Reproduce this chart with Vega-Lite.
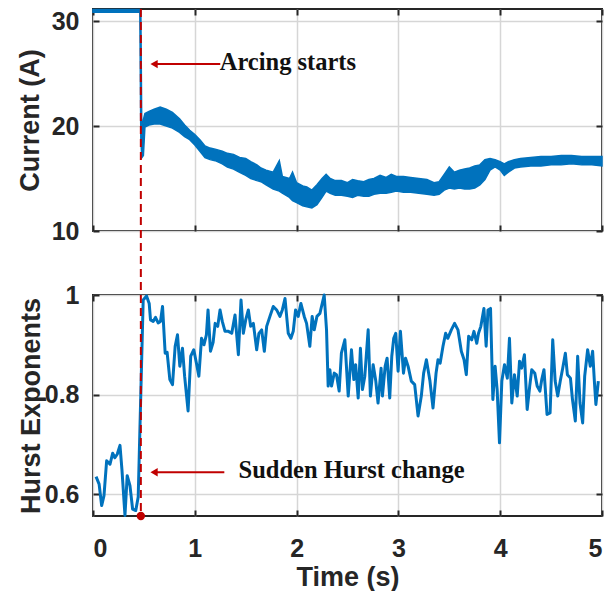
{
  "$schema": "https://vega.github.io/schema/vega-lite/v6.json",
  "padding": {"left": 14, "top": 5, "right": 0, "bottom": 0},
  "bounds": "flush",
  "spacing": 64,
  "background": "white",
  "config": {
    "view": {"stroke": "#262626", "strokeWidth": 2},
    "axis": {
      "domain": false, "tickColor": "#262626", "tickWidth": 2, "tickSize": -6,
      "labelFont": "Liberation Sans", "labelFontWeight": "bold", "labelFontSize": 25, "labelColor": "#262626", "labelPadding": 20,
      "titleFont": "Liberation Sans", "titleFontWeight": "bold", "titleFontSize": 27, "titleColor": "#262626",
      "gridColor": "#d6d6d6", "gridWidth": 1.5
    }
  },
  "datasets": {
    "cur": [
      {"t": 0.0, "lo": 30.85, "hi": 31.1}, {"t": 0.1, "lo": 30.85, "hi": 31.1}, {"t": 0.2, "lo": 30.85, "hi": 31.1},
      {"t": 0.3, "lo": 30.85, "hi": 31.1}, {"t": 0.4, "lo": 30.85, "hi": 31.1}, {"t": 0.46, "lo": 30.85, "hi": 31.1},
      {"t": 0.47, "lo": 18.6, "hi": 31.0}, {"t": 0.48, "lo": 17.0, "hi": 18.8}, {"t": 0.495, "lo": 17.2, "hi": 20.6},
      {"t": 0.51, "lo": 19.9, "hi": 21.2}, {"t": 0.55, "lo": 20.1, "hi": 21.4}, {"t": 0.6, "lo": 20.2, "hi": 21.6},
      {"t": 0.66, "lo": 20.2, "hi": 21.8}, {"t": 0.72, "lo": 20.0, "hi": 21.6}, {"t": 0.78, "lo": 19.8, "hi": 21.3},
      {"t": 0.85, "lo": 19.4, "hi": 20.7}, {"t": 0.9, "lo": 19.0, "hi": 20.1}, {"t": 0.95, "lo": 18.7, "hi": 19.6},
      {"t": 1.0, "lo": 18.2, "hi": 19.2}, {"t": 1.05, "lo": 17.6, "hi": 18.7}, {"t": 1.1, "lo": 17.0, "hi": 18.1},
      {"t": 1.15, "lo": 16.8, "hi": 17.9}, {"t": 1.2, "lo": 16.7, "hi": 17.8}, {"t": 1.27, "lo": 16.4, "hi": 17.6},
      {"t": 1.32, "lo": 16.1, "hi": 17.4}, {"t": 1.38, "lo": 15.9, "hi": 17.3}, {"t": 1.44, "lo": 15.6, "hi": 17.0},
      {"t": 1.5, "lo": 15.3, "hi": 16.9}, {"t": 1.55, "lo": 15.0, "hi": 16.6}, {"t": 1.61, "lo": 14.8, "hi": 16.3},
      {"t": 1.65, "lo": 14.7, "hi": 16.0}, {"t": 1.7, "lo": 14.4, "hi": 15.8}, {"t": 1.77, "lo": 14.0, "hi": 15.6},
      {"t": 1.83, "lo": 13.8, "hi": 16.7}, {"t": 1.86, "lo": 13.6, "hi": 15.2}, {"t": 1.93, "lo": 13.2, "hi": 15.0},
      {"t": 1.96, "lo": 12.9, "hi": 15.6}, {"t": 2.0, "lo": 12.7, "hi": 14.6}, {"t": 2.06, "lo": 12.4, "hi": 14.3},
      {"t": 2.1, "lo": 12.3, "hi": 14.2}, {"t": 2.15, "lo": 12.2, "hi": 13.9}, {"t": 2.2, "lo": 12.5, "hi": 14.4},
      {"t": 2.25, "lo": 13.2, "hi": 15.0}, {"t": 2.29, "lo": 13.8, "hi": 15.4}, {"t": 2.33, "lo": 13.6, "hi": 15.0},
      {"t": 2.38, "lo": 13.4, "hi": 14.8}, {"t": 2.44, "lo": 13.4, "hi": 14.8}, {"t": 2.5, "lo": 13.3, "hi": 14.6},
      {"t": 2.55, "lo": 13.2, "hi": 14.9}, {"t": 2.6, "lo": 13.4, "hi": 14.8}, {"t": 2.66, "lo": 13.3, "hi": 14.7},
      {"t": 2.71, "lo": 13.3, "hi": 14.9}, {"t": 2.76, "lo": 13.5, "hi": 15.0}, {"t": 2.82, "lo": 13.6, "hi": 15.3},
      {"t": 2.88, "lo": 13.6, "hi": 15.1}, {"t": 2.93, "lo": 13.7, "hi": 15.4}, {"t": 2.98, "lo": 13.8, "hi": 15.2},
      {"t": 3.05, "lo": 13.7, "hi": 15.2}, {"t": 3.12, "lo": 13.7, "hi": 15.1}, {"t": 3.2, "lo": 13.6, "hi": 15.0},
      {"t": 3.28, "lo": 13.5, "hi": 14.9}, {"t": 3.35, "lo": 13.4, "hi": 14.6}, {"t": 3.4, "lo": 13.5, "hi": 14.7},
      {"t": 3.45, "lo": 13.9, "hi": 15.4}, {"t": 3.5, "lo": 14.1, "hi": 16.1}, {"t": 3.55, "lo": 14.0, "hi": 15.6},
      {"t": 3.6, "lo": 14.1, "hi": 15.8}, {"t": 3.65, "lo": 14.0, "hi": 15.9}, {"t": 3.7, "lo": 14.0, "hi": 16.0},
      {"t": 3.75, "lo": 14.1, "hi": 16.2}, {"t": 3.8, "lo": 14.4, "hi": 16.3}, {"t": 3.85, "lo": 14.9, "hi": 16.8},
      {"t": 3.9, "lo": 15.8, "hi": 16.9}, {"t": 3.95, "lo": 16.1, "hi": 16.8}, {"t": 4.0, "lo": 15.8, "hi": 16.6},
      {"t": 4.04, "lo": 15.3, "hi": 16.4}, {"t": 4.08, "lo": 15.6, "hi": 16.6}, {"t": 4.14, "lo": 16.0, "hi": 16.8},
      {"t": 4.2, "lo": 16.1, "hi": 16.9}, {"t": 4.3, "lo": 16.2, "hi": 17.0}, {"t": 4.4, "lo": 16.2, "hi": 17.1},
      {"t": 4.5, "lo": 16.3, "hi": 17.1}, {"t": 4.6, "lo": 16.3, "hi": 17.2}, {"t": 4.7, "lo": 16.4, "hi": 17.2},
      {"t": 4.8, "lo": 16.3, "hi": 17.1}, {"t": 4.9, "lo": 16.3, "hi": 17.1}, {"t": 5.0, "lo": 16.2, "hi": 17.1}
    ],
    "hurst": [
      {"t": 0.03, "h": 0.635}, {"t": 0.06, "h": 0.62}, {"t": 0.085, "h": 0.577}, {"t": 0.108, "h": 0.597},
      {"t": 0.134, "h": 0.667}, {"t": 0.167, "h": 0.66}, {"t": 0.193, "h": 0.682}, {"t": 0.215, "h": 0.673},
      {"t": 0.238, "h": 0.68}, {"t": 0.265, "h": 0.698}, {"t": 0.284, "h": 0.65}, {"t": 0.314, "h": 0.557},
      {"t": 0.336, "h": 0.637}, {"t": 0.363, "h": 0.617}, {"t": 0.389, "h": 0.57}, {"t": 0.42, "h": 0.567},
      {"t": 0.444, "h": 0.594}, {"t": 0.493, "h": 0.99}, {"t": 0.526, "h": 0.998}, {"t": 0.552, "h": 0.983},
      {"t": 0.565, "h": 0.95}, {"t": 0.591, "h": 0.947}, {"t": 0.614, "h": 0.955}, {"t": 0.64, "h": 0.944},
      {"t": 0.663, "h": 0.947}, {"t": 0.683, "h": 0.977}, {"t": 0.709, "h": 0.883}, {"t": 0.728, "h": 0.885},
      {"t": 0.755, "h": 0.83}, {"t": 0.781, "h": 0.82}, {"t": 0.807, "h": 0.897}, {"t": 0.83, "h": 0.92},
      {"t": 0.853, "h": 0.857}, {"t": 0.879, "h": 0.893}, {"t": 0.9, "h": 0.837}, {"t": 0.934, "h": 0.767},
      {"t": 0.96, "h": 0.877}, {"t": 0.99, "h": 0.89}, {"t": 1.016, "h": 0.863}, {"t": 1.04, "h": 0.837},
      {"t": 1.066, "h": 0.913}, {"t": 1.09, "h": 0.9}, {"t": 1.114, "h": 0.92}, {"t": 1.13, "h": 0.97},
      {"t": 1.154, "h": 0.887}, {"t": 1.18, "h": 0.905}, {"t": 1.2, "h": 0.943}, {"t": 1.225, "h": 0.937},
      {"t": 1.248, "h": 0.97}, {"t": 1.27, "h": 0.947}, {"t": 1.297, "h": 0.927}, {"t": 1.33, "h": 0.927},
      {"t": 1.363, "h": 0.923}, {"t": 1.395, "h": 0.96}, {"t": 1.428, "h": 0.88}, {"t": 1.454, "h": 0.99},
      {"t": 1.477, "h": 0.923}, {"t": 1.5, "h": 0.95}, {"t": 1.526, "h": 0.97}, {"t": 1.549, "h": 0.937},
      {"t": 1.575, "h": 0.943}, {"t": 1.608, "h": 0.89}, {"t": 1.63, "h": 0.923}, {"t": 1.657, "h": 0.93},
      {"t": 1.683, "h": 0.887}, {"t": 1.706, "h": 0.937}, {"t": 1.738, "h": 0.957}, {"t": 1.771, "h": 0.977},
      {"t": 1.804, "h": 0.97}, {"t": 1.836, "h": 0.957}, {"t": 1.86, "h": 0.97}, {"t": 1.886, "h": 0.993},
      {"t": 1.918, "h": 0.923}, {"t": 1.944, "h": 0.913}, {"t": 1.967, "h": 0.927}, {"t": 1.99, "h": 0.97},
      {"t": 2.016, "h": 0.957}, {"t": 2.042, "h": 0.983}, {"t": 2.075, "h": 0.957}, {"t": 2.098, "h": 0.943},
      {"t": 2.13, "h": 0.897}, {"t": 2.153, "h": 0.957}, {"t": 2.173, "h": 0.93}, {"t": 2.2, "h": 0.957},
      {"t": 2.229, "h": 0.963}, {"t": 2.271, "h": 1.0}, {"t": 2.294, "h": 0.93}, {"t": 2.31, "h": 0.817},
      {"t": 2.327, "h": 0.85}, {"t": 2.343, "h": 0.817}, {"t": 2.37, "h": 0.843}, {"t": 2.392, "h": 0.84},
      {"t": 2.418, "h": 0.807}, {"t": 2.44, "h": 0.883}, {"t": 2.474, "h": 0.91}, {"t": 2.507, "h": 0.797},
      {"t": 2.539, "h": 0.89}, {"t": 2.562, "h": 0.83}, {"t": 2.58, "h": 0.86}, {"t": 2.605, "h": 0.793},
      {"t": 2.627, "h": 0.893}, {"t": 2.647, "h": 0.81}, {"t": 2.67, "h": 0.837}, {"t": 2.703, "h": 0.93},
      {"t": 2.725, "h": 0.797}, {"t": 2.752, "h": 0.86}, {"t": 2.778, "h": 0.827}, {"t": 2.8, "h": 0.783},
      {"t": 2.83, "h": 0.853}, {"t": 2.843, "h": 0.797}, {"t": 2.87, "h": 0.857}, {"t": 2.889, "h": 0.873},
      {"t": 2.915, "h": 0.793}, {"t": 2.935, "h": 0.877}, {"t": 2.954, "h": 0.913}, {"t": 2.974, "h": 0.923},
      {"t": 2.997, "h": 0.847}, {"t": 3.02, "h": 0.927}, {"t": 3.05, "h": 0.843}, {"t": 3.07, "h": 0.873},
      {"t": 3.095, "h": 0.857}, {"t": 3.127, "h": 0.827}, {"t": 3.16, "h": 0.82}, {"t": 3.193, "h": 0.757},
      {"t": 3.225, "h": 0.797}, {"t": 3.248, "h": 0.843}, {"t": 3.275, "h": 0.87}, {"t": 3.31, "h": 0.827},
      {"t": 3.34, "h": 0.773}, {"t": 3.37, "h": 0.843}, {"t": 3.389, "h": 0.87}, {"t": 3.41, "h": 0.863},
      {"t": 3.438, "h": 0.897}, {"t": 3.464, "h": 0.923}, {"t": 3.485, "h": 0.913}, {"t": 3.52, "h": 0.93},
      {"t": 3.552, "h": 0.943}, {"t": 3.585, "h": 0.93}, {"t": 3.618, "h": 0.887}, {"t": 3.645, "h": 0.87},
      {"t": 3.667, "h": 0.84}, {"t": 3.69, "h": 0.917}, {"t": 3.72, "h": 0.91}, {"t": 3.742, "h": 0.927},
      {"t": 3.77, "h": 0.903}, {"t": 3.787, "h": 0.923}, {"t": 3.81, "h": 0.937}, {"t": 3.84, "h": 0.973},
      {"t": 3.862, "h": 0.897}, {"t": 3.88, "h": 0.97}, {"t": 3.905, "h": 0.973}, {"t": 3.928, "h": 0.79},
      {"t": 3.95, "h": 0.857}, {"t": 3.97, "h": 0.81}, {"t": 3.993, "h": 0.703}, {"t": 4.016, "h": 0.827},
      {"t": 4.042, "h": 0.86}, {"t": 4.07, "h": 0.833}, {"t": 4.091, "h": 0.913}, {"t": 4.114, "h": 0.783},
      {"t": 4.14, "h": 0.84}, {"t": 4.167, "h": 0.797}, {"t": 4.19, "h": 0.867}, {"t": 4.21, "h": 0.853},
      {"t": 4.238, "h": 0.88}, {"t": 4.265, "h": 0.77}, {"t": 4.29, "h": 0.817}, {"t": 4.31, "h": 0.85},
      {"t": 4.34, "h": 0.843}, {"t": 4.363, "h": 0.817}, {"t": 4.39, "h": 0.807}, {"t": 4.408, "h": 0.83},
      {"t": 4.43, "h": 0.85}, {"t": 4.46, "h": 0.76}, {"t": 4.49, "h": 0.763}, {"t": 4.516, "h": 0.91},
      {"t": 4.54, "h": 0.827}, {"t": 4.565, "h": 0.797}, {"t": 4.59, "h": 0.827}, {"t": 4.614, "h": 0.853},
      {"t": 4.64, "h": 0.883}, {"t": 4.66, "h": 0.84}, {"t": 4.69, "h": 0.833}, {"t": 4.71, "h": 0.79},
      {"t": 4.738, "h": 0.747}, {"t": 4.761, "h": 0.877}, {"t": 4.784, "h": 0.783}, {"t": 4.81, "h": 0.743},
      {"t": 4.83, "h": 0.837}, {"t": 4.859, "h": 0.89}, {"t": 4.885, "h": 0.857}, {"t": 4.908, "h": 0.887},
      {"t": 4.925, "h": 0.827}, {"t": 4.94, "h": 0.78}, {"t": 4.964, "h": 0.827}
    ]
  },
  "vconcat": [
    {
      "width": 509,
      "height": 222,
      "resolve": {"axis": {"x": "independent", "y": "independent"}},
      "layer": [
        {
          "data": {"name": "cur"},
          "mark": {"type": "area", "color": "#0072BD", "stroke": "#0072BD", "strokeWidth": 1.5},
          "encoding": {
            "x": {"field": "t", "type": "quantitative", "scale": {"domain": [0, 5], "nice": false},
                  "axis": {"values": [0, 1, 2, 3, 4, 5], "labels": false, "title": null, "grid": true}},
            "y": {"field": "lo", "type": "quantitative", "scale": {"domain": [10, 31.15], "nice": false, "zero": false},
                  "axis": {"values": [10, 20, 30], "title": "Current (A)", "titleX": -63, "titleBaseline": "middle", "grid": true}},
            "y2": {"field": "hi"}
          }
        },
        {
          "data": {"name": "cur"},
          "mark": {"type": "point", "opacity": 0},
          "encoding": {
            "x": {"field": "t", "type": "quantitative", "axis": {"orient": "top", "values": [0, 1, 2, 3, 4, 5], "labels": false, "title": null, "grid": false}},
            "y": {"field": "lo", "type": "quantitative", "axis": {"orient": "right", "values": [10, 20, 30], "labels": false, "title": null, "grid": false}}
          }
        },
        {
          "data": {"values": [{"t": 0.47, "a": 31.15, "b": 3.9}]},
          "mark": {"type": "rule", "color": "#c00000", "strokeWidth": 2, "strokeDash": [8, 5]},
          "encoding": {
            "x": {"field": "t", "type": "quantitative", "axis": null},
            "y": {"field": "a", "type": "quantitative", "axis": null},
            "y2": {"field": "b"}
          }
        },
        {
          "data": {"values": [{"t1": 0.6, "t2": 1.25, "y": 25.9}]},
          "mark": {"type": "rule", "color": "#c00000", "strokeWidth": 2},
          "encoding": {
            "x": {"field": "t1", "type": "quantitative", "axis": null},
            "x2": {"field": "t2"},
            "y": {"field": "y", "type": "quantitative", "axis": null}
          }
        },
        {
          "data": {"values": [{"t": 0.6, "y": 25.9}]},
          "mark": {"type": "point", "shape": "triangle-left", "filled": true, "size": 70, "color": "#c00000", "opacity": 1},
          "encoding": {
            "x": {"field": "t", "type": "quantitative", "axis": null},
            "y": {"field": "y", "type": "quantitative", "axis": null}
          }
        },
        {
          "data": {"values": [{"t": 1.245, "y": 26.0, "label": "Arcing starts"}]},
          "mark": {"type": "text", "align": "left", "baseline": "middle", "font": "Liberation Serif", "fontWeight": "bold", "fontSize": 24.5, "color": "#111111"},
          "encoding": {
            "x": {"field": "t", "type": "quantitative", "axis": null},
            "y": {"field": "y", "type": "quantitative", "axis": null},
            "text": {"field": "label"}
          }
        }
      ]
    },
    {
      "width": 509,
      "height": 221,
      "resolve": {"axis": {"x": "independent", "y": "independent"}},
      "layer": [
        {
          "data": {"name": "hurst"},
          "mark": {"type": "line", "color": "#0072BD", "strokeWidth": 3, "strokeJoin": "round"},
          "encoding": {
            "x": {"field": "t", "type": "quantitative", "scale": {"domain": [0, 5], "nice": false},
                  "axis": {"values": [0, 1, 2, 3, 4, 5], "labelPadding": 26, "title": "Time (s)", "titleY": 61, "titleBaseline": "middle", "grid": true}},
            "y": {"field": "h", "type": "quantitative", "scale": {"domain": [0.556, 1.0], "nice": false, "zero": false},
                  "axis": {"values": [0.6, 0.8, 1.0], "format": ".1~f", "title": "Hurst Exponents", "titleX": -62, "titleBaseline": "middle", "grid": true}}
          }
        },
        {
          "data": {"name": "hurst"},
          "mark": {"type": "point", "opacity": 0},
          "encoding": {
            "x": {"field": "t", "type": "quantitative", "axis": {"orient": "top", "values": [0, 1, 2, 3, 4, 5], "labels": false, "title": null, "grid": false}},
            "y": {"field": "h", "type": "quantitative", "axis": {"orient": "right", "values": [0.6, 0.8, 1.0], "labels": false, "title": null, "grid": false}}
          }
        },
        {
          "data": {"values": [{"t": 0.47, "a": 1.0, "b": 0.556}]},
          "mark": {"type": "rule", "color": "#c00000", "strokeWidth": 2, "strokeDash": [8, 5]},
          "encoding": {
            "x": {"field": "t", "type": "quantitative", "axis": null},
            "y": {"field": "a", "type": "quantitative", "axis": null},
            "y2": {"field": "b"}
          }
        },
        {
          "data": {"values": [{"t": 0.47, "h": 0.556}]},
          "mark": {"type": "point", "shape": "circle", "filled": true, "size": 70, "color": "#c00000", "opacity": 1},
          "encoding": {
            "x": {"field": "t", "type": "quantitative", "axis": null},
            "y": {"field": "h", "type": "quantitative", "axis": null}
          }
        },
        {
          "data": {"values": [{"t1": 0.6, "t2": 1.29, "y": 0.644}]},
          "mark": {"type": "rule", "color": "#c00000", "strokeWidth": 2},
          "encoding": {
            "x": {"field": "t1", "type": "quantitative", "axis": null},
            "x2": {"field": "t2"},
            "y": {"field": "y", "type": "quantitative", "axis": null}
          }
        },
        {
          "data": {"values": [{"t": 0.6, "y": 0.644}]},
          "mark": {"type": "point", "shape": "triangle-left", "filled": true, "size": 70, "color": "#c00000", "opacity": 1},
          "encoding": {
            "x": {"field": "t", "type": "quantitative", "axis": null},
            "y": {"field": "y", "type": "quantitative", "axis": null}
          }
        },
        {
          "data": {"values": [{"t": 1.43, "y": 0.646, "label": "Sudden Hurst change"}]},
          "mark": {"type": "text", "align": "left", "baseline": "middle", "font": "Liberation Serif", "fontWeight": "bold", "fontSize": 24.5, "color": "#111111"},
          "encoding": {
            "x": {"field": "t", "type": "quantitative", "axis": null},
            "y": {"field": "y", "type": "quantitative", "axis": null},
            "text": {"field": "label"}
          }
        }
      ]
    }
  ]
}
